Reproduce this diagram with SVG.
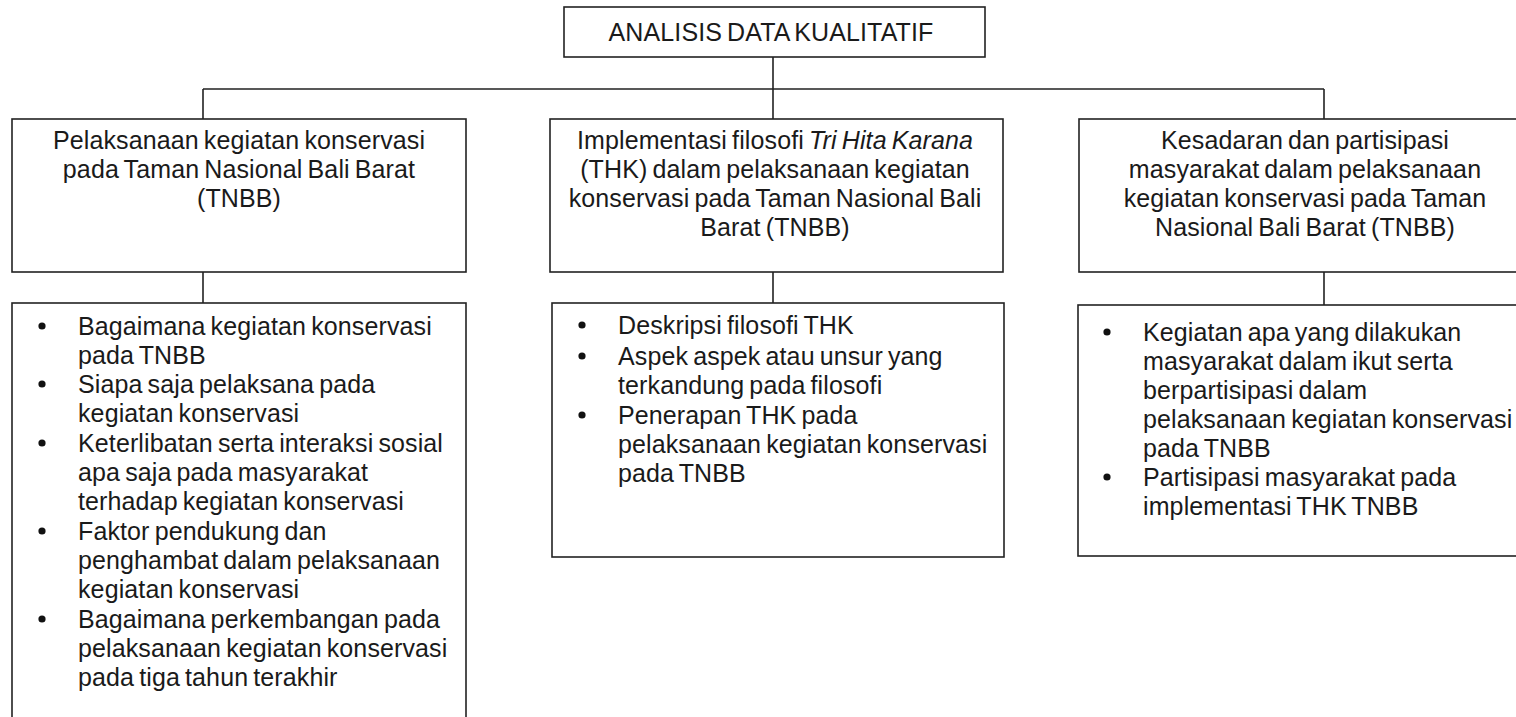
<svg xmlns="http://www.w3.org/2000/svg" width="1516" height="717" viewBox="0 0 1516 717">
<style>
.box{fill:#fff;stroke:#222;stroke-width:1.6}
.conn{stroke:#222;stroke-width:1.6;fill:none}
.t{font-family:"Liberation Sans",Arial,sans-serif;font-size:25px;fill:#1a1a1a;word-spacing:-2px;letter-spacing:0.12px}
.c{text-anchor:middle}
.dot{fill:#111}
</style>
<rect width="1516" height="717" fill="#fff"/>
<g id="connectors">
<path class="conn" d="M773 57V119M203 89H1324M203 89V119M1324 89V119M203 272V303M773 272V303M1324 272V305"/>
</g>
<g id="root">
<rect class="box" x="564" y="7" width="421" height="50"/>
<text class="t c" x="771" y="41" letter-spacing="0.4">ANALISIS DATA KUALITATIF</text>
</g>
<g id="h1">
<rect class="box" x="12" y="119" width="454" height="153"/>
<text class="t c" x="239" y="149">Pelaksanaan kegiatan konservasi</text>
<text class="t c" x="239" y="178">pada Taman Nasional Bali Barat</text>
<text class="t c" x="239" y="207">(TNBB)</text>
</g>
<g id="h2">
<rect class="box" x="550" y="119" width="453" height="153"/>
<text class="t c" x="775" y="149">Implementasi filosofi <tspan font-style="italic">Tri Hita Karana</tspan></text>
<text class="t c" x="775" y="178">(THK) dalam pelaksanaan kegiatan</text>
<text class="t c" x="775" y="207">konservasi pada Taman Nasional Bali</text>
<text class="t c" x="775" y="236">Barat (TNBB)</text>
</g>
<g id="h3">
<rect class="box" x="1079" y="119" width="460" height="153"/>
<text class="t c" x="1305" y="149">Kesadaran dan partisipasi</text>
<text class="t c" x="1305" y="178">masyarakat dalam pelaksanaan</text>
<text class="t c" x="1305" y="207">kegiatan konservasi pada Taman</text>
<text class="t c" x="1305" y="236">Nasional Bali Barat (TNBB)</text>
</g>
<g id="l1">
<rect class="box" x="12" y="303" width="454" height="440"/>
<circle class="dot" cx="42" cy="326" r="3.6"/>
<circle class="dot" cx="42" cy="384" r="3.6"/>
<circle class="dot" cx="42" cy="443" r="3.6"/>
<circle class="dot" cx="42" cy="531" r="3.6"/>
<circle class="dot" cx="42" cy="619" r="3.6"/>
<text class="t" x="78" y="335">Bagaimana kegiatan konservasi</text>
<text class="t" x="78" y="364">pada TNBB</text>
<text class="t" x="78" y="393">Siapa saja pelaksana pada</text>
<text class="t" x="78" y="422">kegiatan konservasi</text>
<text class="t" x="78" y="452">Keterlibatan serta interaksi sosial</text>
<text class="t" x="78" y="481">apa saja pada masyarakat</text>
<text class="t" x="78" y="510">terhadap kegiatan konservasi</text>
<text class="t" x="78" y="540">Faktor pendukung dan</text>
<text class="t" x="78" y="569">penghambat dalam pelaksanaan</text>
<text class="t" x="78" y="598">kegiatan konservasi</text>
<text class="t" x="78" y="628">Bagaimana perkembangan pada</text>
<text class="t" x="78" y="657">pelaksanaan kegiatan konservasi</text>
<text class="t" x="78" y="686">pada tiga tahun terakhir</text>
</g>
<g id="l2">
<rect class="box" x="552" y="303" width="452" height="254"/>
<circle class="dot" cx="582" cy="325" r="3.6"/>
<circle class="dot" cx="582" cy="356" r="3.6"/>
<circle class="dot" cx="582" cy="415" r="3.6"/>
<text class="t" x="618" y="334">Deskripsi filosofi THK</text>
<text class="t" x="618" y="365">Aspek aspek atau unsur yang</text>
<text class="t" x="618" y="394">terkandung pada filosofi</text>
<text class="t" x="618" y="424">Penerapan THK pada</text>
<text class="t" x="618" y="453">pelaksanaan kegiatan konservasi</text>
<text class="t" x="618" y="482">pada TNBB</text>
</g>
<g id="l3">
<rect class="box" x="1078" y="305" width="460" height="251"/>
<circle class="dot" cx="1107" cy="332" r="3.6"/>
<circle class="dot" cx="1107" cy="477" r="3.6"/>
<text class="t" x="1143" y="341">Kegiatan apa yang dilakukan</text>
<text class="t" x="1143" y="370">masyarakat dalam ikut serta</text>
<text class="t" x="1143" y="399">berpartisipasi dalam</text>
<text class="t" x="1143" y="428">pelaksanaan kegiatan konservasi</text>
<text class="t" x="1143" y="457">pada TNBB</text>
<text class="t" x="1143" y="486">Partisipasi masyarakat pada</text>
<text class="t" x="1143" y="515">implementasi THK TNBB</text>
</g>
</svg>
